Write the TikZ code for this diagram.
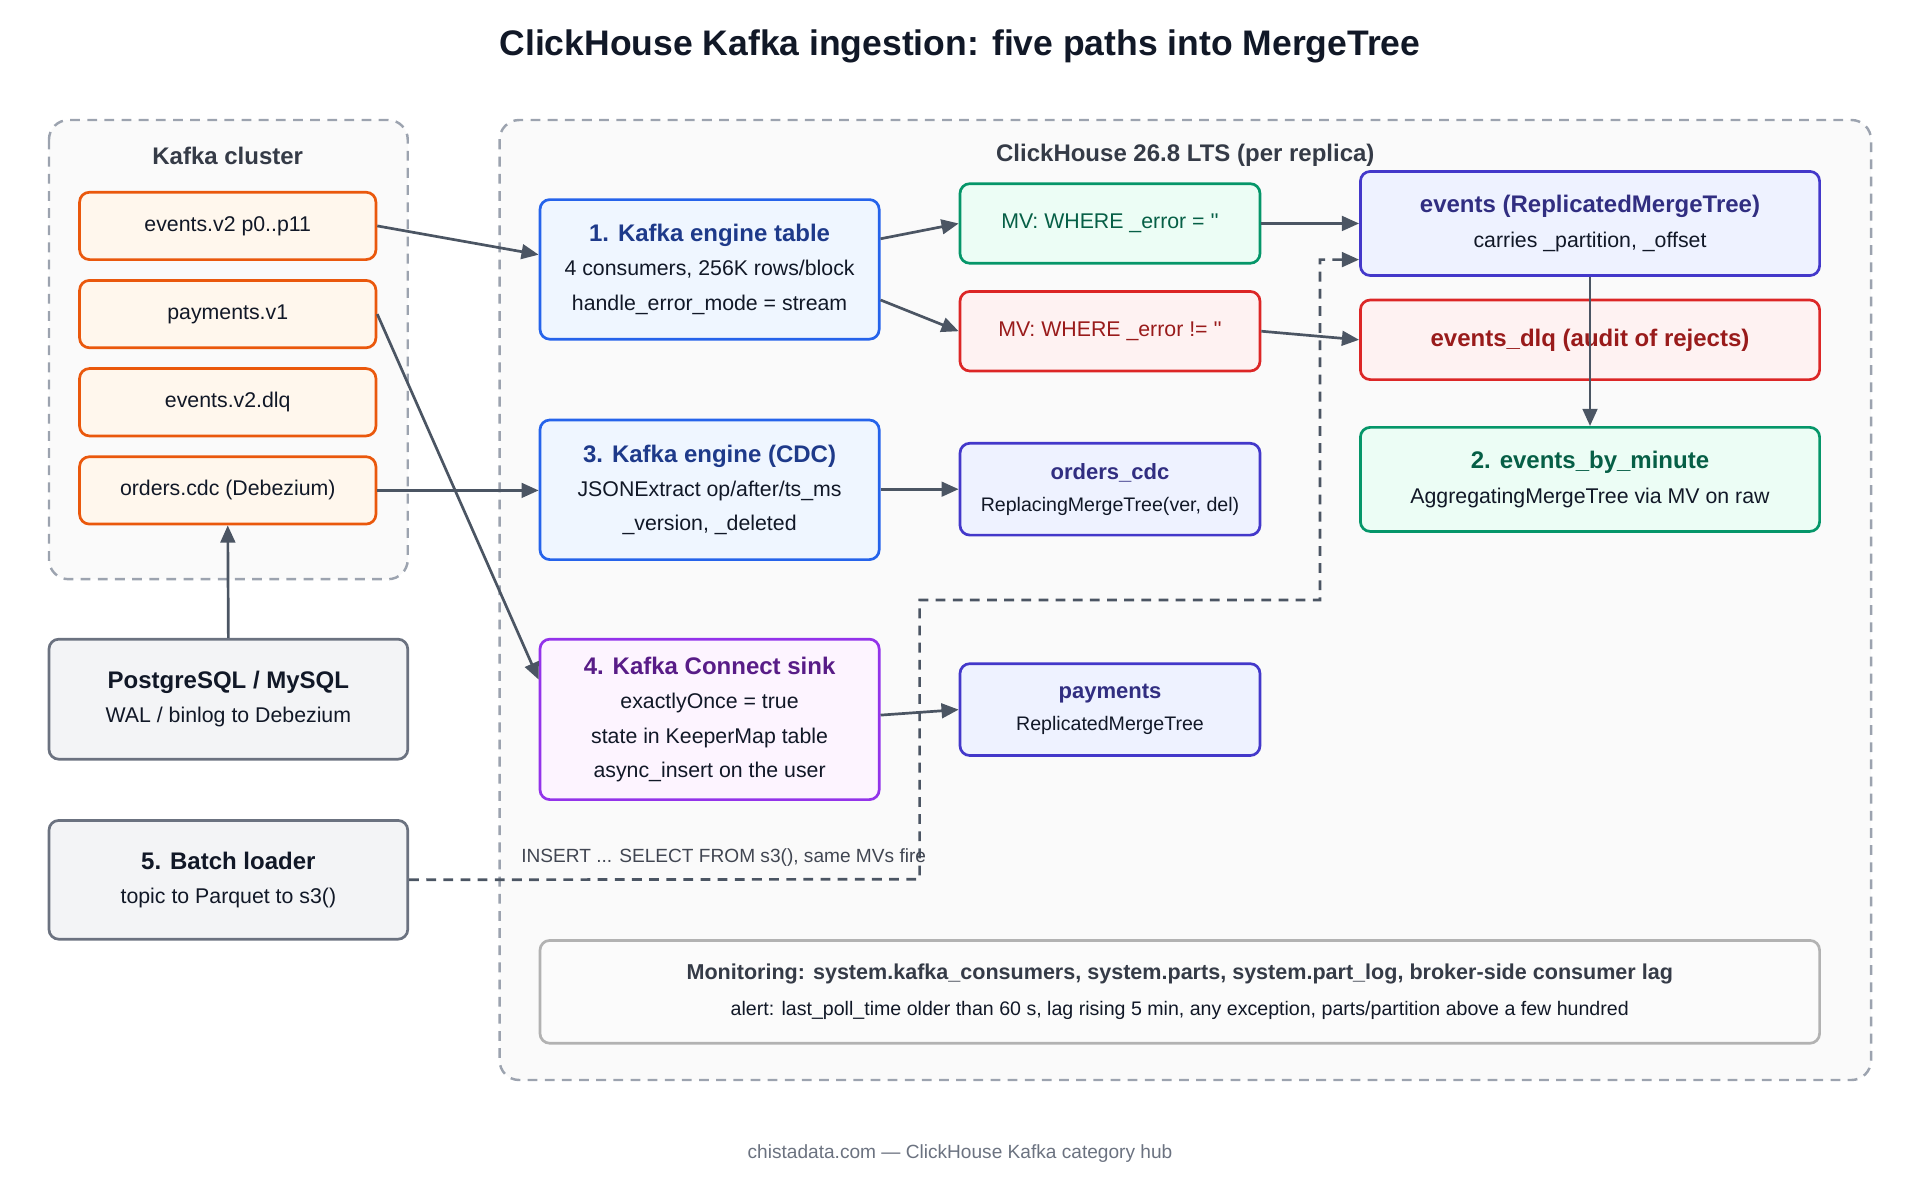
\documentclass[tikz,border=0pt]{standalone}
\usepackage{fontspec}
\setmainfont{Liberation Sans}
\newfontfamily\rawfont{Liberation Sans}
\usetikzlibrary{arrows.meta,positioning}
\definecolor{arr}{HTML}{4B5563}
\definecolor{orB}{HTML}{EA580C}\definecolor{orF}{HTML}{FFF7ED}
\definecolor{blB}{HTML}{2563EB}\definecolor{blF}{HTML}{EFF6FF}\definecolor{blT}{HTML}{1E3A8A}
\definecolor{grB}{HTML}{059669}\definecolor{grF}{HTML}{ECFDF5}\definecolor{grT}{HTML}{065F46}
\definecolor{rdB}{HTML}{DC2626}\definecolor{rdF}{HTML}{FEF2F2}\definecolor{rdT}{HTML}{991B1B}
\definecolor{inB}{HTML}{4338CA}\definecolor{inF}{HTML}{EEF2FF}\definecolor{inT}{HTML}{312E81}
\definecolor{puB}{HTML}{9333EA}\definecolor{puF}{HTML}{FDF4FF}\definecolor{puT}{HTML}{581C87}
\definecolor{gyB}{HTML}{6B7280}\definecolor{gyF}{HTML}{F3F4F6}\definecolor{gyT}{HTML}{111827}
\definecolor{cnt}{HTML}{9CA3AF}
\tikzset{
  box/.style={draw, rounded corners=4pt, line width=1.1pt, align=center, inner sep=0pt, font=\fontsize{8.7}{14}\selectfont, text=gyT},
  sz/.style 2 args={minimum width=#1*0.5pt, minimum height=#2*0.5pt},
  orange/.style={box, draw=orB, fill=orF},
  blue/.style={box, draw=blB, fill=blF},
  green/.style={box, draw=grB, fill=grF},
  red/.style={box, draw=rdB, fill=rdF},
  indigo/.style={box, draw=inB, fill=inF},
  purple/.style={box, draw=puB, fill=puF},
  grey/.style={box, draw=gyB, fill=gyF},
  group/.style={draw=cnt, line width=1pt, dash pattern=on 4pt off 3pt, rounded corners=8pt, fill=gray!4},
  flow/.style={draw=arr, line width=1.1pt, -{Triangle[length=7pt,width=6pt]}},
  hd/.style={font=\bfseries\fontsize{9.8}{12}\selectfont}
}
\newcommand{\hdf}{\bfseries\fontsize{9.8}{14}\selectfont}
\newcommand{\qq}{{\rawfont ''}}
\begin{document}
\begin{tikzpicture}[x=0.5pt,y=-0.5pt]
  \useasboundingbox (0,0) rectangle (1568,980);
  \node[font=\bfseries\fontsize{14.5}{16}\selectfont, text=gyT] (title) at (784,38) {ClickHouse Kafka ingestion: five paths into MergeTree};

  % containers
  \draw[group] (40,98) rectangle (333,473);
  \node[hd, text=gyT!85] (kafka) at (186,127) {Kafka cluster};
  \draw[group] (408,98) rectangle (1528,882);
  \node[hd, text=gyT!85] (ch) at (968,127) {ClickHouse 26.8 LTS (per replica)};

  % topics
  \node[orange, sz={242}{55}] (t1) at (186,184.5) {events.v2 p0..p11};
  \node[orange, sz={242}{55}] (t2) at (186,256.5) {payments.v1};
  \node[orange, sz={242}{55}] (t3) at (186,328.5) {events.v2.dlq};
  \node[orange, sz={242}{55}] (t4) at (186,400.5) {orders.cdc (Debezium)};

  % sources
  \node[grey, sz={293}{98}] (pg) at (186.5,571) {{\hdf PostgreSQL / MySQL}\\WAL / binlog to Debezium};
  \node[grey, sz={293}{97}] (batch) at (186.5,718.5) {{\hdf 5. Batch loader}\\topic to Parquet to s3()};

  % engines
  \node[blue, sz={277}{114}] (ke) at (579.5,220) {{\hdf\color{blT}1. Kafka engine table}\\4 consumers, 256K rows/block\\handle\_error\_mode = stream};
  \node[blue, sz={277}{114}] (cdc) at (579.5,400) {{\hdf\color{blT}3. Kafka engine (CDC)}\\JSONExtract op/after/ts\_ms\\\_version, \_deleted};
  \node[purple, sz={277}{131}] (sink) at (579.5,587.5) {{\hdf\color{puT}4. Kafka Connect sink}\\exactlyOnce = true\\state in KeeperMap table\\async\_insert on the user};

  % views and tables
  \node[green, sz={245}{65}, text=grT] (mvok) at (906.5,182.5) {MV: WHERE \_error = \qq};
  \node[red, sz={245}{65}, text=rdT] (mvbad) at (906.5,270.5) {MV: WHERE \_error != \qq};
  \node[indigo, sz={375}{85}] (ev) at (1298.5,182.5) {{\hdf\color{inT}events (ReplicatedMergeTree)}\\carries \_partition, \_offset};
  \node[red, sz={375}{65}] (dlq) at (1298.5,277.5) {\hdf\color{rdT}events\_dlq (audit of rejects)};
  \node[green, sz={375}{85}] (agg) at (1298.5,391.5) {{\hdf\color{grT}2. events\_by\_minute}\\AggregatingMergeTree via MV on raw};
  \node[indigo, sz={245}{75}, font=\fontsize{8}{13}\selectfont] (ocdc) at (906.5,399.5) {{\bfseries\fontsize{9}{13}\selectfont\color{inT}orders\_cdc}\\ReplacingMergeTree(ver, del)};
  \node[indigo, sz={245}{75}, font=\fontsize{8}{13}\selectfont] (pay) at (906.5,579.5) {{\bfseries\fontsize{9}{13}\selectfont\color{inT}payments}\\ReplicatedMergeTree};

  \node[grey, fill=gray!3, draw=gray!60, sz={1045}{84}, font=\fontsize{8}{15}\selectfont] (mon) at (963.5,810) {{\bfseries\fontsize{8.8}{15}\selectfont\color{gyT!85}Monitoring: system.kafka\_consumers, system.parts, system.part\_log, broker-side consumer lag}\\alert: last\_poll\_time older than 60 s, lag rising 5 min, any exception, parts/partition above a few hundred};

  % flows
  \draw[flow] (t1.east) -- (ke.west |- 0,208);
  \draw[flow] (t2.east) -- (ke.west |- 0,555);
  \draw[flow] (t4.east) -- (cdc.west |- t4);
  \draw[flow] (pg.north) -- (t4.south);
  \draw[flow] (ke.east |- 0,195) -- (mvok.west);
  \draw[flow] (ke.east |- 0,245) -- (mvbad.west);
  \draw[flow] (mvok.east) -- (ev.west |- mvok);
  \draw[flow] (mvbad.east) -- (dlq.west);
  \draw[flow] (ev.south) -- (agg.north);
  \draw[flow] (cdc.east |- ocdc) -- (ocdc.west);
  \draw[flow] (sink.east |- 0,584) -- (pay.west);
  \coordinate (b1) at (751,718);
  \coordinate (b2) at (1078,490);
  \draw[flow, dash pattern=on 4pt off 3pt] (batch.east) -- (b1) -- (751,490) -- (b2) -- (1078,212) -- (ev.west |- 0,212);
  \node[font=\fontsize{7.8}{10}\selectfont, text=gyT!80] (ins) at (591,700) {INSERT ... SELECT FROM s3(), same MVs fire};

  \node[font=\fontsize{7.8}{10}\selectfont, text=gyB] (foot) at (784,942) {chistadata.com — ClickHouse Kafka category hub};
\end{tikzpicture}
\end{document}
